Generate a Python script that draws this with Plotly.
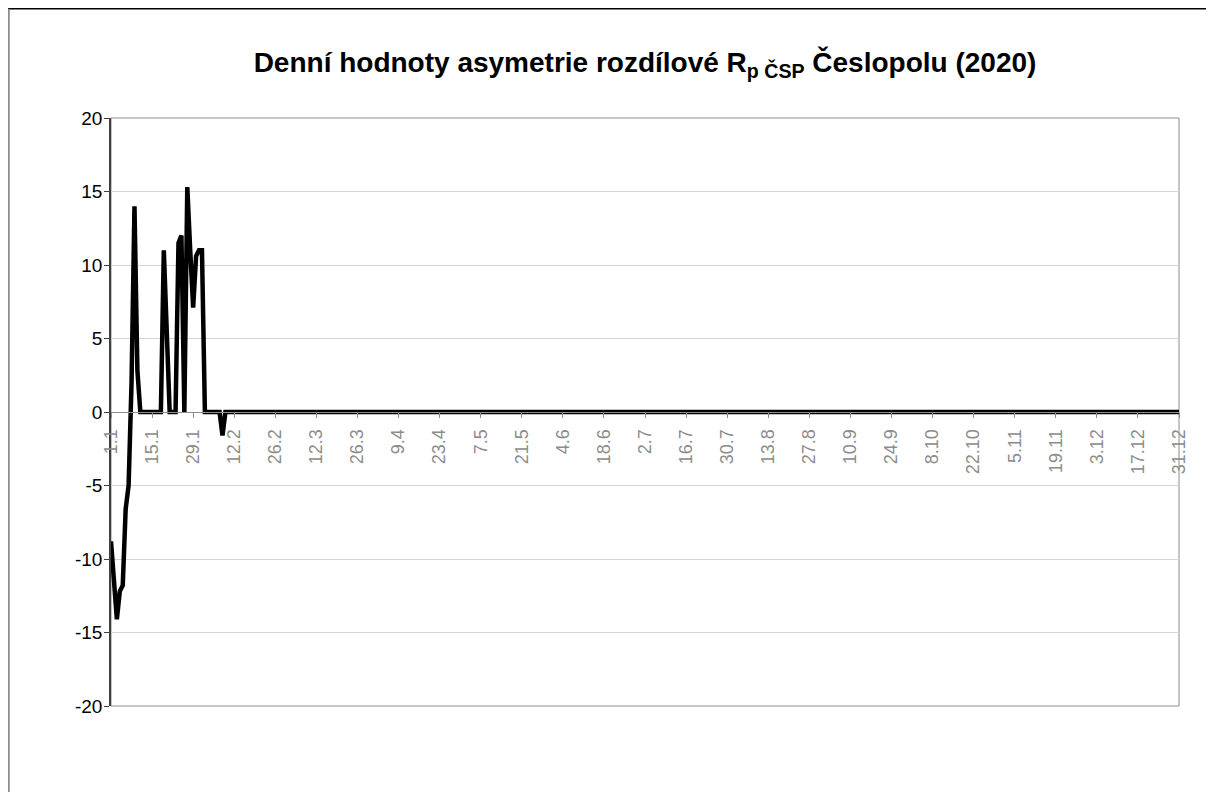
import plotly.graph_objects as go

# Categories: daily labels "d.m" as on the chart's category axis (365 days, no 29.2)
month_lengths = [31, 28, 31, 30, 31, 30, 31, 31, 30, 31, 30, 31]
days = [f"{d}.{m}" for m, n in enumerate(month_lengths, start=1) for d in range(1, n + 1)]

# Values (first weeks non-zero, then zero)
early_values = [
    -8.8, -11.5, -14.1, -12.2, -11.8, -6.6, -5.0, 2.0, 14.0, 2.8,
    0.0, 0.0, 0.0, 0.0, 0.0, 0.0, 0.0, 0.0, 11.0, 5.5,
    0.0, 0.0, 0.0, 11.5, 12.0, 0.0, 15.3, 11.0, 7.1, 10.6,
    11.0, 11.0, 0.0, 0.0, 0.0, 0.0, 0.0, 0.0, -1.6, 0.0,
]
values = early_values + [0.0] * (len(days) - len(early_values))

tick_labels = days[::14]
y_ticks = [-20, -15, -10, -5, 0, 5, 10, 15, 20]
y_tick_text = ["-20", "-15", "-10", "-5", "0", "5", "10", "15", "20"]

title_text = ("<b>Denní hodnoty asymetrie rozdílové R<sub>p ČSP</sub> "
              "Česlopolu (2020)</b>")

fig = go.Figure()
fig.add_trace(go.Scatter(
    x=days, y=values, mode="lines",
    line=dict(color="black", width=4.5),
    showlegend=False, hoverinfo="skip",
))

# page body has an 8px margin, so the figure is 1206x784 placed at (8, 8)
W, H = 1206, 784
L, R, T, B = 103, 35, 110, 86
pw, ph = W - L - R, H - T - B

def px_x(px):
    return (px - L) / pw

def px_y(py):
    return (H - B - py) / ph

fig.update_layout(
    width=W, height=H,
    margin=dict(l=L, r=R, t=T, b=B, pad=0),
    paper_bgcolor="white", plot_bgcolor="white",
    font=dict(family="Liberation Sans, Arial, sans-serif", color="black"),
    title=dict(text=title_text, xref="paper", x=0.5, xanchor="center",
               yref="container", y=1 - 54 / H, yanchor="middle",
               font=dict(size=28, color="black")),
    xaxis=dict(
        type="category",
        range=[0, len(days) - 1],
        tickmode="array", tickvals=tick_labels, ticktext=tick_labels,
        tickangle=-90,
        tickfont=dict(size=18, color="#8c8c8c"),
        ticks="outside", ticklen=5, tickcolor="#8c8c8c",
        ticklabelstandoff=4,
        showgrid=False, zeroline=False,
        showline=True, linecolor="#8c8c8c", linewidth=1,
        anchor="free", position=0.5,
    ),
    yaxis=dict(
        range=[-20, 20],
        tickmode="array", tickvals=y_ticks, ticktext=y_tick_text,
        tickfont=dict(size=19, color="black"),
        ticks="outside", ticklen=5, tickcolor="#404040",
        ticklabelstandoff=-2,
        showgrid=True, gridcolor="#d4d4d4", gridwidth=1,
        zeroline=False,
        showline=True, linecolor="#404040", linewidth=1.5,
    ),
    shapes=[
        dict(type="rect", xref="paper", yref="paper", x0=0, y0=0, x1=1, y1=1,
             line=dict(color="#8c8c8c", width=1), layer="below"),
        dict(type="line", xref="paper", yref="paper",
             x0=px_x(0), x1=px_x(W), y0=px_y(0.75), y1=px_y(0.75),
             line=dict(color="black", width=1.5)),
        dict(type="line", xref="paper", yref="paper",
             x0=px_x(0.75), x1=px_x(0.75), y0=px_y(0.75), y1=px_y(H),
             line=dict(color="#8c8c8c", width=2)),
    ],
)

fig.write_html("out.html")
